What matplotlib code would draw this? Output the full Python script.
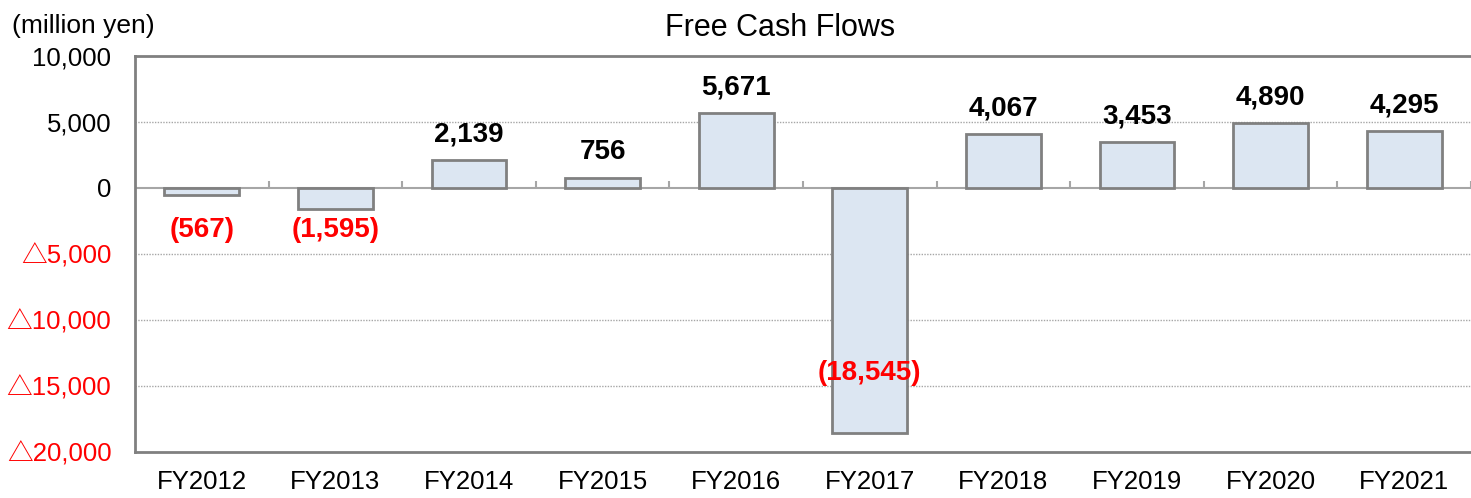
import numpy as np
import matplotlib.pyplot as plt
from matplotlib.ticker import FuncFormatter

plt.rcParams['font.family'] = ['Liberation Sans', 'Noto Sans CJK JP', 'DejaVu Sans']

years = ["FY2012", "FY2013", "FY2014", "FY2015", "FY2016",
         "FY2017", "FY2018", "FY2019", "FY2020", "FY2021"]
fcf = [-567, -1595, 2139, 756, 5671, -18545, 4067, 3453, 4890, 4295]
y_ticks = [10000, 5000, 0, -5000, -10000, -15000, -20000]


def fmt_label(v):
    """negative values in parentheses"""
    if v < 0:
        return "({:,})".format(-v)
    return "{:,}".format(v)


def fmt_tick(v, pos):
    if v < 0:
        return "\u25b3{:,}".format(int(-v))
    return "{:,}".format(int(v))


fig = plt.figure(figsize=(14.71, 4.98), dpi=100)
ax = fig.add_axes([0.0918, 0.0924, 0.9082, 0.7952])

x = np.arange(len(years))
ax.bar(x, fcf, width=0.56, color="#DCE6F2", edgecolor="#808080", linewidth=2, zorder=3)

ax.set_xlim(-0.5, len(years) - 0.5)
ax.set_ylim(-20000, 10000)
ax.set_yticks(y_ticks)
ax.yaxis.set_major_formatter(FuncFormatter(fmt_tick))
ax.set_xticks(x)
ax.set_xticklabels(years)
ax.tick_params(axis="y", length=0, pad=17, labelsize=18.5)
ax.tick_params(axis="x", length=0, pad=13, labelsize=18.5)
for lbl, v in zip(ax.get_yticklabels(), y_ticks):
    if v < 0:
        lbl.set_color("red")

# grid and zero line
for v in y_ticks[1:-1]:
    if v != 0:
        ax.axhline(v, color="#A6A6A6", linestyle=(0, (1, 1)), linewidth=1, zorder=1)
ax.axhline(0, color="#A6A6A6", linewidth=1.5, zorder=2)
ax.vlines(np.arange(len(years) + 1) - 0.5, 0, 550, color="#A6A6A6", linewidth=1.5, zorder=2)

for side in ["left", "top", "bottom"]:
    ax.spines[side].set_color("#808080")
    ax.spines[side].set_linewidth(2)
ax.spines["right"].set_visible(False)

# value labels
for i, v in enumerate(fcf):
    if v >= 0:
        ax.text(i, v + 950, fmt_label(v), ha="center", va="bottom",
                fontsize=20, fontweight="bold", color="black")
    elif v < -10000:
        ax.text(i, -14000, fmt_label(v), ha="center", va="center",
                fontsize=20, fontweight="bold", color="red", zorder=4)
    else:
        ax.text(i, -3200, fmt_label(v), ha="center", va="center",
                fontsize=20, fontweight="bold", color="red")

fig.text(0.53, 0.944, "Free Cash Flows", ha="center", va="center", fontsize=22)
fig.text(0.008, 0.948, "(million yen)", ha="left", va="center", fontsize=19)

fig.savefig("out.png", dpi=100)
